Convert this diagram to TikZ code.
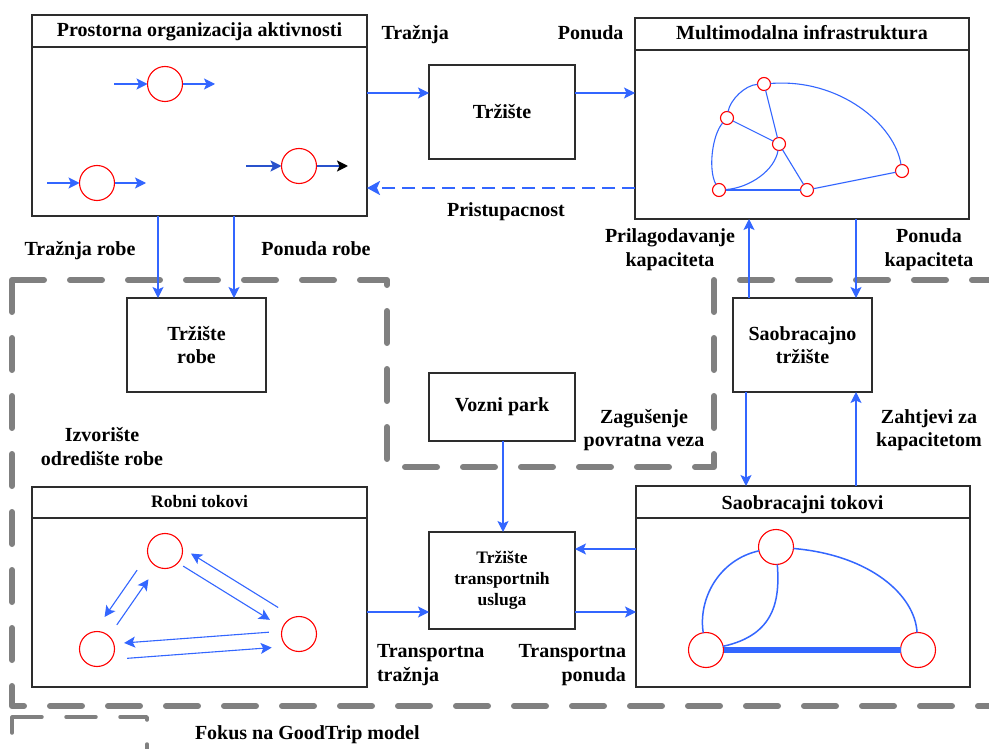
\documentclass[tikz,border=0pt]{standalone}
\usepackage{fontspec}
\setmainfont{Liberation Serif}
\usetikzlibrary{arrows.meta,calc}
\definecolor{flowblue}{RGB}{51,102,255}
\definecolor{spotred}{RGB}{255,0,0}
\definecolor{focusgray}{RGB}{128,128,128}
\definecolor{framegray}{RGB}{45,45,45}
\begin{document}
\begin{tikzpicture}[x=1pt,y=-1pt,
  panel/.style={draw=framegray, line width=1.3pt, fill=white, inner sep=0pt, outer sep=0pt},
  headline/.style={draw=framegray, line width=1.8pt},
  bigtxt/.style={font=\bfseries\fontsize{20}{23.5}\selectfont, inner sep=0pt, outer sep=0pt},
  smalltxt/.style={font=\bfseries\fontsize{17.5}{20.8}\selectfont, inner sep=0pt, outer sep=0pt},
  flowtip/.style={-{Stealth[length=11pt,width=11pt,inset=2.5pt]}},
  conn/.style={draw=flowblue, line width=1.1pt, flowtip},
  link/.style={draw=flowblue, line width=1.1pt},
  spot/.style={circle, draw=spotred, line width=1.1pt, fill=white, minimum size=35pt, inner sep=0pt, outer sep=0pt},
  netdot/.style={circle, draw=spotred, line width=1.1pt, fill=white, minimum size=13pt, inner sep=0pt, outer sep=0pt},
  focusline/.style={draw=focusgray, line width=6pt, line cap=round, line join=round, dash pattern=on 32pt off 26pt},
  legendline/.style={draw=focusgray, line width=3.5pt, line cap=round, line join=round, dash pattern=on 30pt off 24pt}
]
\useasboundingbox (0,0) rectangle (989,749);

% focus region and legend frame
\begin{scope}
  \clip (0,0) rectangle (989,749);
  \draw[focusline] (12,280) -- (387,280) -- (387,467) -- (714,467) -- (714,280)
    -- (1010,280) -- (1010,706) -- (12,706) -- cycle;
  \draw[legendline] (12,717) -- (147,717) -- (147,752) -- (12,752) -- cycle;
\end{scope}
\node[bigtxt, anchor=base west] (lblFokus) at (195,739.3) {Fokus na GoodTrip model};

% ---------- Prostorna organizacija aktivnosti ----------
\node[panel, minimum width=335pt, minimum height=201pt] (prostor) at (199.5,115.5) {};
\draw[headline] (prostor.west |- 0,47) -- (prostor.east |- 0,47);
\node[bigtxt, anchor=base] (prostorT) at (199.5,36.7) {Prostorna organizacija aktivnosti};

\node[spot] (pa) at (165,84) {};
\node[spot] (pb) at (97,183) {};
\node[spot] (pc) at (299,166) {};
\coordinate (pa-in) at (114,84);  \coordinate (pa-out) at (215,84);
\coordinate (pb-in) at (47,183);  \coordinate (pb-out) at (146,183);
\coordinate (pc-in) at (246,166); \coordinate (pc-out) at (348,166);
\draw[conn] (pa-in) -- (pa);
\draw[conn] (pa) -- (pa-out);
\draw[conn] (pb-in) -- (pb);
\draw[conn] (pb) -- (pb-out);
\draw[draw=flowblue!80!black, line width=1.8pt, flowtip] (pc-in) -- (pc);
\draw[draw=flowblue!80!black, line width=1.8pt,
      -{Stealth[length=11pt,width=11pt,inset=2.5pt,color=black]}] (pc) -- (pc-out);

% ---------- Trziste ----------
\node[panel, bigtxt, align=center, minimum width=146pt, minimum height=94pt] (trziste) at (502,112) {Tržište};

% ---------- Multimodalna infrastruktura ----------
\node[panel, minimum width=334pt, minimum height=201pt] (multi) at (802,118.5) {};
\draw[headline] (multi.west |- 0,50) -- (multi.east |- 0,50);
\node[bigtxt, anchor=base] (multiT) at (802,40) {Multimodalna infrastruktura};

\node[netdot] (ma) at (764,84) {};
\node[netdot] (mb) at (727,118) {};
\node[netdot] (mc) at (779,144) {};
\node[netdot] (md) at (719,190) {};
\node[netdot] (me) at (807,190) {};
\node[netdot] (mf) at (902,171) {};
\draw[link] (mb) .. controls (730,100) and (745,85) .. (ma);
\draw[link] (mb) .. controls (712,135) and (708,170) .. (md);
\draw[link] (mc) .. controls (775,170) and (750,188) .. (md);
\draw[link] (ma) .. controls (840,78) and (895,125) .. (mf);
\draw[link] (ma) -- (mc);
\draw[link] (mb) -- (mc);
\draw[link] (mc) -- (me);
\draw[link] (md) -- (me);
\draw[link] (me) -- (mf);

% ---------- Trziste robe ----------
\node[panel, bigtxt, align=center, minimum width=139pt, minimum height=94pt] (robe) at (196.5,345) {Tržište\\robe};

% ---------- Saobracajno trziste ----------
\node[panel, bigtxt, align=center, minimum width=139pt, minimum height=94pt] (saotrz) at (802.5,345) {Saobracajno\\tržište};

% ---------- Vozni park ----------
\node[panel, bigtxt, align=center, minimum width=146pt, minimum height=68pt] (vozni) at (502,407) {Vozni park};

% ---------- Trziste transportnih usluga ----------
\node[panel, smalltxt, align=center, minimum width=146pt, minimum height=97pt] (tts) at (502,580.5) {Tržište\\transportnih\\usluga};

% ---------- Robni tokovi ----------
\node[panel, minimum width=335pt, minimum height=200pt] (robni) at (199.5,587) {};
\draw[headline] (robni.west |- 0,518) -- (robni.east |- 0,518);
\node[smalltxt, anchor=base] (robniT) at (199.5,507.7) {Robni tokovi};

\node[spot] (rs) at (165,551) {};
\node[spot] (rt) at (97,649) {};
\node[spot] (ru) at (299,634) {};
\draw[conn, transform canvas={shift={(-9.9,-6.8)}}, shorten <=31.6pt, shorten >=30.7pt] (rs.center) -- (rt.center);
\draw[conn, transform canvas={shift={(2.1,1.4)}}, shorten <=31pt, shorten >=32.7pt] (rt.center) -- (rs.center);
\draw[conn, transform canvas={shift={(6.1,-9.8)}}, shorten <=31.7pt, shorten >=23.4pt] (ru.center) -- (rs.center);
\draw[conn, transform canvas={shift={(-1.7,2.8)}}, shorten <=23.4pt, shorten >=32.2pt] (rs.center) -- (ru.center);
\draw[conn, transform canvas={shift={(-0.3,-4)}}, shorten <=30pt, shorten >=27.5pt] (ru.center) -- (rt.center);
\draw[conn, transform canvas={shift={(0.85,11.5)}}, shorten <=29.4pt, shorten >=28.2pt] (rt.center) -- (ru.center);

% ---------- Saobracajni tokovi ----------
\node[panel, minimum width=334pt, minimum height=201pt] (saotok) at (803,586.5) {};
\draw[headline] (saotok.west |- 0,518) -- (saotok.east |- 0,518);
\node[bigtxt, anchor=base] (saotokT) at (802.5,509.3) {Saobracajni tokovi};

\node[spot] (sp) at (776,547) {};
\node[spot] (sq) at (706,650) {};
\node[spot] (sr) at (918,650) {};
\draw[link, line width=1.5pt] (sp) .. controls (718,560) and (698,600) .. (sq);
\draw[link, line width=1.5pt] (sp) .. controls (780,600) and (775,635) .. (sq);
\draw[link, line width=1.5pt] (sp) .. controls (870,555) and (915,595) .. (sr);
\draw[link, line width=6pt] (sq) -- (sr);

% ---------- connectors between blocks ----------
\draw[conn] (prostor.east |- 0,93) -- (trziste.west |- 0,93);
\draw[conn] (trziste.east |- 0,93) -- (multi.west |- 0,93);
\draw[draw=flowblue, line width=2.4pt, dash pattern=on 13pt off 7pt,
      -{Stealth[length=13pt,width=14pt,inset=3pt]}] (multi.west |- 0,188) -- (prostor.east |- 0,188);
\draw[conn] (prostor.south -| 158,0) -- (robe.north -| 158,0);
\draw[conn] (prostor.south -| 234,0) -- (robe.north -| 234,0);
\draw[conn] (saotrz.north -| 749,0) -- (multi.south -| 749,0);
\draw[conn] (multi.south -| 856,0) -- (saotrz.north -| 856,0);
\draw[conn] (saotrz.south -| 746,0) -- (saotok.north -| 746,0);
\draw[conn] (saotok.north -| 856,0) -- (saotrz.south -| 856,0);
\draw[conn] (vozni.south -| 503,0) -- (tts.north -| 503,0);
\draw[conn] (saotok.west |- 0,549) -- (tts.east |- 0,549);
\draw[conn] (tts.east |- 0,612) -- (saotok.west |- 0,612);
\draw[conn] (robni.east |- 0,612) -- (tts.west |- 0,612);

% ---------- labels ----------
\node[bigtxt, anchor=base west] (lblTraznja) at (381.5,39.3) {Tražnja};
\node[bigtxt, anchor=base east] (lblPonuda) at (623.5,39.3) {Ponuda};
\node[bigtxt, anchor=base] (lblPristup) at (506,216.5) {Pristupacnost};
\node[bigtxt, anchor=base] (lblTrRobe) at (80,255) {Tražnja robe};
\node[bigtxt, anchor=base] (lblPonRobe) at (316,255) {Ponuda robe};
\node[bigtxt, anchor=base] (lblIzv) at (102,441.7)
  {\begin{tabular}[t]{@{}c@{}}Izvorište\\odredište robe\end{tabular}};
\node[bigtxt, anchor=base] (lblPrilag) at (670,242.7)
  {\begin{tabular}[t]{@{}c@{}}Prilagodavanje\\kapaciteta\end{tabular}};
\node[bigtxt, anchor=base] (lblPonKap) at (929,242.7)
  {\begin{tabular}[t]{@{}c@{}}Ponuda\\kapaciteta\end{tabular}};
\node[bigtxt, anchor=base] (lblZagus) at (644,423.3)
  {\begin{tabular}[t]{@{}c@{}}Zagušenje\\povratna veza\end{tabular}};
\node[bigtxt, anchor=base] (lblZaht) at (929,423.3)
  {\begin{tabular}[t]{@{}c@{}}Zahtjevi za\\kapacitetom\end{tabular}};
\node[bigtxt, anchor=base west] (lblTrTr) at (377,657.7)
  {\begin{tabular}[t]{@{}l@{}}Transportna\\tražnja\end{tabular}};
\node[bigtxt, anchor=base east] (lblTrPon) at (626,657.7)
  {\begin{tabular}[t]{@{}r@{}}Transportna\\ponuda\end{tabular}};
\end{tikzpicture}
\end{document}
